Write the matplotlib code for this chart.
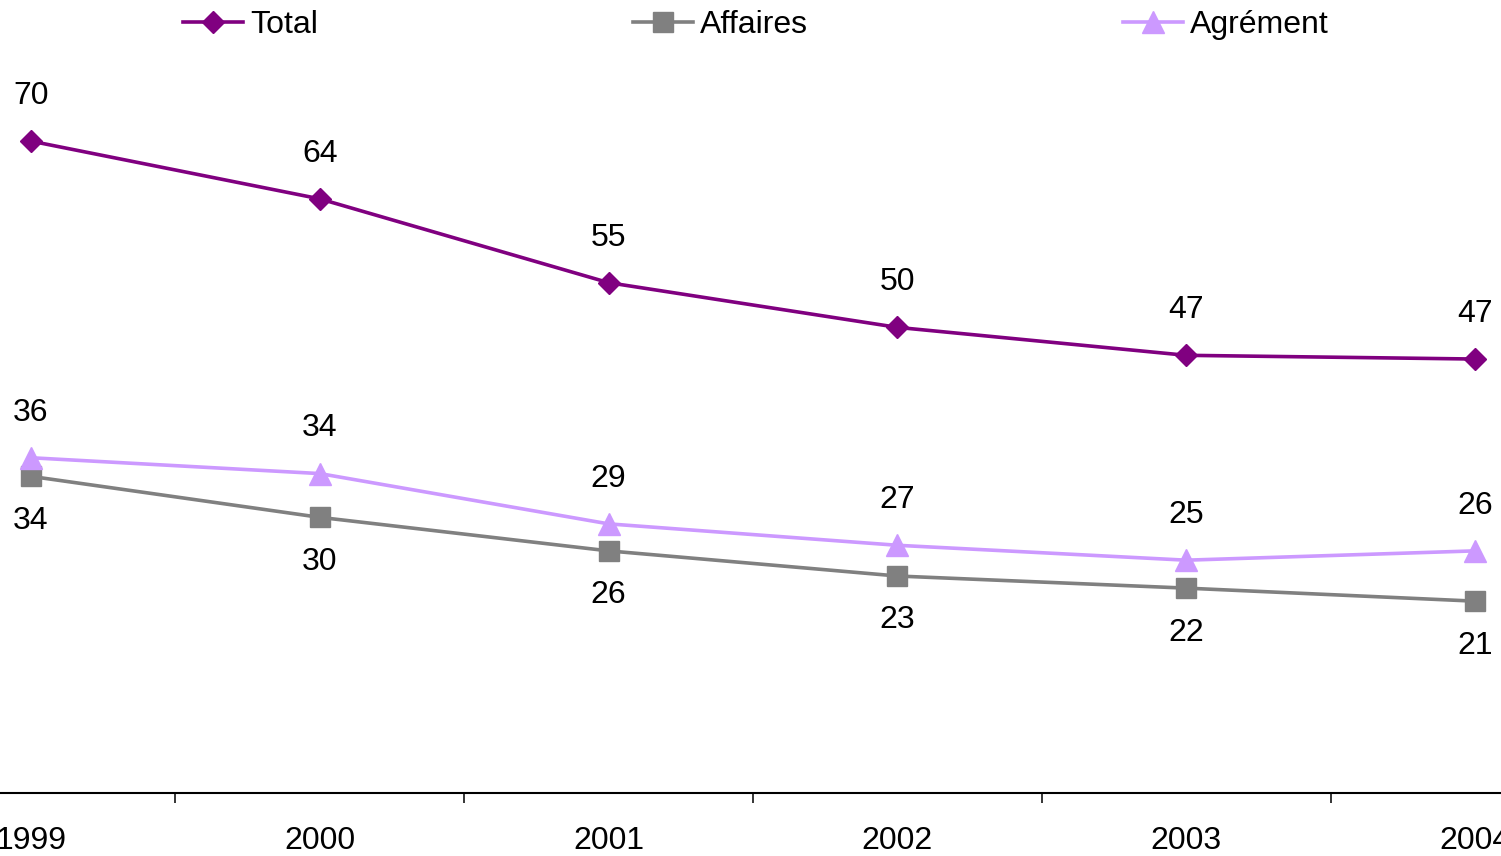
import matplotlib.pyplot as plt
from matplotlib.ticker import FixedLocator

plt.rcParams['font.family'] = ['Liberation Sans', 'DejaVu Sans']

years = ['1999', '2000', '2001', '2002', '2003', '2004']
total = [70, 63.8, 54.8, 50, 47, 46.6]
affaires = [34, 29.6, 26, 23.3, 22, 20.6]
agrement = [36, 34.3, 28.9, 26.6, 25, 26]

series = [
    ('Total', total, '#800080', 'D', 11.2, 'above'),
    ('Affaires', affaires, '#808080', 's', 14.4, 'below'),
    ('Agrément', agrement, '#CC99FF', '^', 15.8, 'above'),
]

W, H = 1501, 856
fig = plt.figure(figsize=(W / 100, H / 100), dpi=100)
# plot area runs past the figure edges, so the first and last years sit near the borders
ax = fig.add_axes([-113.4 / W, 63 / H, 1732.8 / W, 745 / H])
ax.set_xlim(-0.5, 5.5)
ax.set_ylim(0, 80)

x = list(range(len(years)))
handles = []
for name, vals, color, marker, ms, where in series:
    line, = ax.plot(x, vals, color=color, lw=2.6, marker=marker, ms=ms,
                    markeredgecolor=color, label=name, clip_on=False, zorder=3)
    handles.append(line)
    dy = 32.5 if where == 'above' else -32
    for xi, v in zip(x, vals):
        ax.annotate(f'{v:.0f}', (xi, v), xytext=(0, dy), textcoords='offset points',
                    ha='center', va='center', fontsize=23)

for side in ['top', 'right', 'left']:
    ax.spines[side].set_visible(False)
ax.spines['bottom'].set_linewidth(1.5)
ax.set_yticks([])
ax.set_xticks(x)
ax.set_xticklabels(years, fontsize=23)
ax.tick_params(axis='x', which='major', length=0, pad=24)
ax.xaxis.set_minor_locator(FixedLocator([0.5, 1.5, 2.5, 3.5, 4.5]))
ax.tick_params(axis='x', which='minor', length=7.2, width=1.1, direction='out')

# one legend entry per slot along the top
legend_x = [183, 633, 1123]
for h, lx in zip(handles, legend_x):
    leg = fig.legend([h], [h.get_label()], loc='center left',
                     bbox_to_anchor=(lx / W, 1 - 25 / H), frameon=False,
                     fontsize=23, handlelength=1.88, handletextpad=0.22,
                     borderpad=0, borderaxespad=0, numpoints=1)

fig.savefig('out.png', dpi=100)
